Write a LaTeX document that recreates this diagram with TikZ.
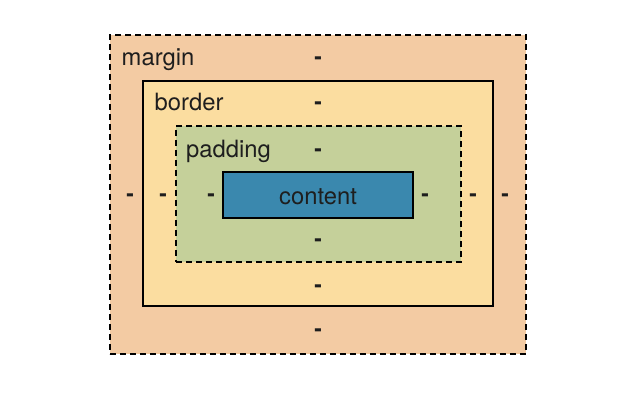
\documentclass[tikz,border=0pt]{standalone}
\usepackage{fontspec}
\setmainfont{TeX Gyre Heros}
\usepackage{tikz}
\usetikzlibrary{positioning}

\definecolor{marginfill}{HTML}{F3CBA3}
\definecolor{borderfill}{HTML}{FBDDA0}
\definecolor{paddingfill}{HTML}{C5D09A}
\definecolor{contentfill}{HTML}{3A88AE}
\definecolor{ink}{HTML}{1E1E1E}

\tikzset{
  layer/.style={rectangle,inner sep=0pt,line width=2pt,draw=black},
  dashedlayer/.style={layer,dash pattern=on 6pt off 4pt},
  lbl/.style={font=\fontsize{23.8}{27}\selectfont,text=ink,inner sep=0pt},
  dsh/.style={lbl,font=\fontsize{22.5}{26}\selectfont\bfseries}
}

\begin{document}
\begin{tikzpicture}[x=1pt,y=-1pt]
    \useasboundingbox (0,0) rectangle (643,406);
    % the four nested boxes
    \node[dashedlayer,fill=marginfill,minimum width=416pt,minimum height=319pt] (margin)  at (318,194.5) {};
    \node[layer,fill=borderfill,minimum width=350pt,minimum height=225pt]        (border)  at (318,193.5) {};
    \node[dashedlayer,fill=paddingfill,minimum width=285pt,minimum height=136pt] (padding) at (318.5,194) {};
    \node[layer,fill=contentfill,minimum width=190pt,minimum height=46pt]        (content) at (318,195) {};
    % names
    \node[lbl,anchor=base west] (margin_t)  at (121.5,65.5)  {margin};
    \node[lbl,anchor=base west] (border_t)  at (154.5,110.5) {border};
    \node[lbl,anchor=base west] (padding_t) at (186,157.5)   {padding};
    \node[lbl,anchor=base]      (content_t) at (318,204.5)   {content};
    % top values
    \node[dsh] (margin_top)  at (318,61)  {-};
    \node[dsh] (border_top)  at (318,106) {-};
    \node[dsh] (padding_top) at (318,153) {-};
    % bottom values
    \node[dsh] (padding_bot) at (318,243) {-};
    \node[dsh] (border_bot)  at (318,289) {-};
    \node[dsh] (margin_bot)  at (318,333) {-};
    % left values
    \node[dsh] (margin_l)  at (130,198) {-};
    \node[dsh] (border_l)  at (163,198) {-};
    \node[dsh] (padding_l) at (211,198) {-};
    % right values
    \node[dsh] (padding_r) at (425,198) {-};
    \node[dsh] (border_r)  at (473,198) {-};
    \node[dsh] (margin_r)  at (505,198) {-};
\end{tikzpicture}
\end{document}
